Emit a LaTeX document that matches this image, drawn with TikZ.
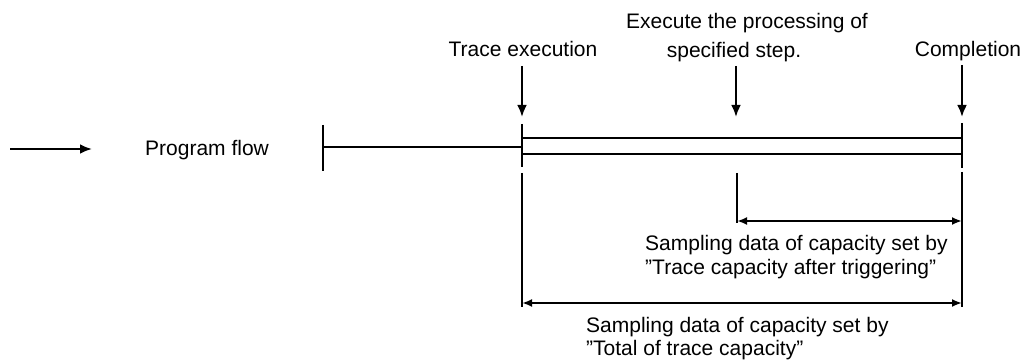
\documentclass[tikz,border=0pt]{standalone}
\usepackage{fontspec}
\setmainfont{Liberation Sans}[Ligatures=ResetAll]
\usetikzlibrary{arrows.meta}
\begin{document}
\begin{tikzpicture}[x=1pt,y=-1pt,
  lbl/.style={inner sep=0pt,font=\fontsize{21}{24}\selectfont},
  bar/.style={line width=2.8pt},
  thin/.style={line width=1.8pt},
  downarrow/.style={line width=2.4pt,-{Latex[length=12pt,width=10pt]}},
  dimarrow/.style={line width=2.6pt,{Latex[length=10pt,width=8pt]}-{Latex[length=10pt,width=8pt]}}]
\useasboundingbox (0,0) rectangle (1024,363);
% coordinates
\coordinate (fa) at (10,149);
\coordinate (fb) at (92,149);
\coordinate (lt1) at (323,125);
\coordinate (lt2) at (323,171);
\coordinate (lm) at (323,147);
\coordinate (tm) at (522,147);
\coordinate (tt) at (522,124);
\coordinate (tb) at (522,167);
\coordinate (tl1) at (522,173);
\coordinate (tl2) at (522,307);
\coordinate (ct) at (962,123);
\coordinate (cb) at (962,168);
\coordinate (cl1) at (962,172);
\coordinate (cl2) at (962,307);
\coordinate (ua) at (522,138);
\coordinate (ub) at (962,138);
\coordinate (la) at (522,154);
\coordinate (lb) at (962,154);
\coordinate (m1) at (737,173);
\coordinate (m2) at (737,223);
\coordinate (a1s) at (522,66);
\coordinate (a1e) at (522,117);
\coordinate (a2s) at (736,66);
\coordinate (a2e) at (736,117);
\coordinate (a3s) at (962,65);
\coordinate (a3e) at (962,117);
\coordinate (ia) at (737,221);
\coordinate (ib) at (962,221);
\coordinate (oa) at (522,303);
\coordinate (ob) at (962,303);
% texts
\node[lbl,anchor=base west] (pf) at (145,156) {Program flow};
\node[lbl,anchor=base] (te) at (523,57) {Trace execution};
\node[lbl,anchor=base] (ex1) at (747,29) {Execute the processing of};
\node[lbl,anchor=base] (ex2) at (734,58) {specified step.};
\node[lbl,anchor=base] (co) at (968,57) {Completion};
\node[lbl,anchor=base west] (s1) at (645,250) {Sampling data of capacity set by};
\node[lbl,anchor=base west] (s2) at (645,274) {"Trace capacity after triggering"};
\node[lbl,anchor=base west] (t1) at (586,332) {Sampling data of capacity set by};
\node[lbl,anchor=base west] (t2) at (586,355) {"Total of trace capacity"};
% connectors
\draw[downarrow] (fa) -- (fb);
\draw[bar] (lt1) -- (lt2);
\draw[thin] (lm) -- (tm);
\draw[bar] (tt) -- (tb);
\draw[bar] (tl1) -- (tl2);
\draw[bar] (ct) -- (cb);
\draw[bar] (cl1) -- (cl2);
\draw[bar] (ua) -- (ub);
\draw[bar] (la) -- (lb);
\draw[bar] (m1) -- (m2);
\draw[downarrow] (a1s) -- (a1e);
\draw[downarrow] (a2s) -- (a2e);
\draw[downarrow] (a3s) -- (a3e);
\draw[dimarrow] (ia) -- (ib);
\draw[dimarrow] (oa) -- (ob);
\end{tikzpicture}
\end{document}
